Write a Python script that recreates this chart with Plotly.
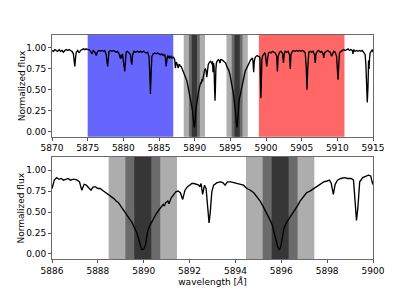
import plotly.graph_objects as go
from plotly.subplots import make_subplots

# ---- data ----
wavelength = [
    5870.0, 5870.2, 5870.4, 5870.6, 5870.8, 5871.0, 5871.2, 5871.4, 5871.6, 5871.8,
    5872.0, 5872.2, 5872.4, 5872.6, 5872.8, 5873.0, 5873.1, 5873.2, 5873.3, 5873.4,
    5873.6, 5873.8, 5874.0, 5874.2, 5874.4, 5874.6, 5874.8, 5875.0,
    5875.2, 5875.4, 5875.6, 5875.8, 5876.0, 5876.2, 5876.4, 5876.6, 5876.8, 5877.0,
    5877.2, 5877.4, 5877.6, 5877.7, 5877.8, 5877.9, 5878.0, 5878.2, 5878.4, 5878.6,
    5878.8, 5879.0, 5879.2, 5879.4, 5879.6, 5879.7, 5879.8, 5879.9, 5880.0, 5880.1,
    5880.2, 5880.3, 5880.4, 5880.6, 5880.8, 5881.0, 5881.1, 5881.2, 5881.3, 5881.5,
    5881.7, 5882.0, 5882.2, 5882.4, 5882.6, 5882.8, 5883.0, 5883.2, 5883.4, 5883.6,
    5883.7, 5883.8, 5883.9, 5884.0, 5884.2, 5884.4, 5884.6, 5884.8, 5885.0, 5885.2,
    5885.4, 5885.6, 5885.8, 5885.9, 5886.0, 5886.1, 5886.2, 5886.3, 5886.4, 5886.5,
    5886.6, 5886.7, 5886.8, 5886.9, 5887.0, 5887.1, 5887.2, 5887.3, 5887.4, 5887.5,
    5887.6, 5887.7, 5887.8, 5887.9, 5888.0, 5888.1, 5888.2, 5888.3, 5888.4, 5888.5,
    5888.6, 5888.7, 5888.8, 5888.9, 5889.0, 5889.1, 5889.2, 5889.3, 5889.4, 5889.5,
    5889.6, 5889.7, 5889.8, 5889.85, 5889.9, 5889.95, 5890.0, 5890.07, 5890.12, 5890.17,
    5890.25, 5890.35, 5890.45, 5890.55, 5890.65, 5890.75, 5890.85, 5890.9, 5890.95, 5891.05,
    5891.1, 5891.2, 5891.3, 5891.4, 5891.5, 5891.6, 5891.7, 5891.8, 5891.9, 5892.0,
    5892.1, 5892.2, 5892.3, 5892.4, 5892.45, 5892.5, 5892.57, 5892.65, 5892.72, 5892.78,
    5892.85, 5892.9, 5892.97, 5893.05, 5893.2, 5893.35, 5893.45, 5893.55, 5893.65, 5893.8,
    5893.95, 5894.1, 5894.25, 5894.35, 5894.5, 5894.65, 5894.8, 5894.95, 5895.08, 5895.2,
    5895.3, 5895.4, 5895.5, 5895.6, 5895.7, 5895.78, 5895.85, 5895.92, 5895.98, 5896.05,
    5896.12, 5896.22, 5896.32, 5896.45, 5896.6, 5896.72, 5896.82, 5896.95, 5897.1, 5897.25,
    5897.4, 5897.55, 5897.7, 5897.85, 5898.0, 5898.1, 5898.18, 5898.27, 5898.35, 5898.45,
    5898.6, 5898.75, 5898.9, 5899.05, 5899.15, 5899.22, 5899.28, 5899.34, 5899.42, 5899.55,
    5899.7, 5899.8, 5899.9, 5899.97, 5900.1, 5900.2, 5900.35, 5900.5, 5900.7, 5900.9,
    5901.1, 5901.3, 5901.5, 5901.6, 5901.7, 5901.9, 5902.1, 5902.3, 5902.45, 5902.55,
    5902.7, 5902.9, 5903.1, 5903.3, 5903.4, 5903.5, 5903.7, 5903.9, 5904.1, 5904.3,
    5904.5, 5904.7, 5904.9, 5905.1, 5905.3, 5905.5, 5905.65, 5905.75, 5905.85, 5906.0,
    5906.2, 5906.4, 5906.6, 5906.8, 5906.9, 5907.0, 5907.2, 5907.4, 5907.6, 5907.8,
    5908.0, 5908.1, 5908.2, 5908.4, 5908.6, 5908.8, 5909.0, 5909.2, 5909.3, 5909.5,
    5909.7, 5909.9, 5910.0, 5910.1, 5910.2, 5910.3, 5910.5, 5910.7, 5910.9, 5911.1,
    5911.3, 5911.5, 5911.7, 5911.9, 5912.1, 5912.2, 5912.3, 5912.5, 5912.7, 5912.9,
    5913.1, 5913.3, 5913.5, 5913.7, 5913.9, 5914.0, 5914.1, 5914.2, 5914.3, 5914.38,
    5914.45, 5914.52, 5914.6, 5914.75, 5914.9, 5915.0,
]
flux = [
    0.97, 0.96, 0.98, 0.97, 0.96, 0.98, 0.96, 0.97, 0.95, 0.97,
    0.98, 0.97, 0.98, 0.97, 0.96, 0.93, 0.85, 0.78, 0.88, 0.95,
    0.97, 0.94, 0.97, 0.98, 0.99, 0.98, 0.99, 0.98,
    0.98, 0.96, 0.93, 0.97, 0.95, 0.91, 0.96, 0.97, 0.96, 0.97,
    0.96, 0.97, 0.92, 0.84, 0.78, 0.88, 0.96, 0.97, 0.96, 0.97,
    0.96, 0.95, 0.96, 0.93, 0.87, 0.92, 0.88, 0.93, 0.85, 0.80,
    0.72, 0.84, 0.95, 0.96, 0.94, 0.92, 0.84, 0.80, 0.92, 0.96,
    0.95, 0.96, 0.95, 0.96, 0.95, 0.96, 0.95, 0.94, 0.95, 0.90,
    0.70, 0.45, 0.70, 0.90, 0.93, 0.94, 0.93, 0.94, 0.93, 0.92,
    0.93, 0.91, 0.92, 0.88, 0.78, 0.88, 0.91, 0.89, 0.90, 0.88,
    0.89, 0.90, 0.88, 0.89, 0.89, 0.88, 0.86, 0.76, 0.83, 0.82,
    0.79, 0.76, 0.80, 0.80, 0.78, 0.78, 0.76, 0.74, 0.73, 0.70,
    0.68, 0.66, 0.63, 0.61, 0.57, 0.53, 0.49, 0.45, 0.41, 0.37,
    0.31, 0.25, 0.16, 0.10, 0.06, 0.05, 0.06, 0.10, 0.18, 0.27,
    0.33, 0.38, 0.44, 0.48, 0.52, 0.56, 0.59, 0.57, 0.61, 0.63,
    0.60, 0.67, 0.70, 0.74, 0.75, 0.73, 0.65, 0.76, 0.80, 0.82,
    0.84, 0.84, 0.83, 0.82, 0.80, 0.84, 0.71, 0.82, 0.78, 0.55,
    0.37, 0.49, 0.74, 0.82, 0.85, 0.86, 0.85, 0.82, 0.86, 0.86,
    0.85, 0.84, 0.83, 0.82, 0.78, 0.76, 0.73, 0.68, 0.63, 0.57,
    0.52, 0.47, 0.41, 0.35, 0.25, 0.16, 0.08, 0.05, 0.09, 0.20,
    0.31, 0.37, 0.41, 0.47, 0.53, 0.58, 0.63, 0.68, 0.73, 0.75,
    0.78, 0.81, 0.84, 0.86, 0.87, 0.88, 0.84, 0.71, 0.83, 0.88,
    0.90, 0.91, 0.90, 0.90, 0.88, 0.60, 0.40, 0.55, 0.86, 0.91,
    0.93, 0.94, 0.93, 0.85, 0.78, 0.86, 0.94, 0.95, 0.94, 0.96,
    0.95, 0.94, 0.90, 0.72, 0.90, 0.95, 0.96, 0.94, 0.82, 0.93,
    0.96, 0.95, 0.96, 0.92, 0.75, 0.92, 0.96, 0.97, 0.96, 0.97,
    0.96, 0.97, 0.96, 0.97, 0.96, 0.94, 0.75, 0.50, 0.75, 0.95,
    0.96, 0.95, 0.96, 0.92, 0.82, 0.93, 0.96, 0.97, 0.95, 0.96,
    0.93, 0.88, 0.94, 0.96, 0.97, 0.96, 0.95, 0.90, 0.93, 0.96,
    0.95, 0.90, 0.75, 0.62, 0.80, 0.94, 0.96, 0.97, 0.98, 0.97,
    0.98, 0.99, 0.97, 0.98, 0.97, 0.93, 0.98, 0.96, 0.97, 0.96,
    0.97, 0.96, 0.97, 0.95, 0.92, 0.80, 0.55, 0.35, 0.55, 0.85,
    0.75, 0.88, 0.94, 0.96, 0.98, 0.95,
]

# shaded wavelength windows
blue_band = [5875.0, 5887.0]
red_band = [5899.0, 5911.0]
line_centres = [5889.96, 5895.95]
band_halfwidths = [1.49, 0.76, 0.37]          # light, mid, dark
band_colors = ["#adadad", "#6b6b6b", "#363636"]

top_xticks = [5870, 5875, 5880, 5885, 5890, 5895, 5900, 5905, 5910, 5915]
bottom_xticks = [5886, 5888, 5890, 5892, 5894, 5896, 5898, 5900]
yticks = [0.0, 0.25, 0.5, 0.75, 1.0]
ytick_text = ["0.00", "0.25", "0.50", "0.75", "1.00"]

FONT = "DejaVu Sans"
# the page body adds an 8px offset, so the figure is 8px smaller
W, H = 407, 283
TOP_DOMAIN = [0.546, 1.0]
BOTTOM_DOMAIN = [0.0, 0.455]

fig = make_subplots(rows=2, cols=1, vertical_spacing=0.09)

for row in (1, 2):
    fig.add_trace(go.Scatter(x=wavelength, y=flux, mode="lines",
                             line=dict(color="black", width=1.35),
                             showlegend=False, hoverinfo="skip"), row=row, col=1)

shapes = []
def vband(x0, x1, color, xref, yref):
    shapes.append(dict(type="rect", xref=xref, yref=yref, x0=x0, x1=x1,
                       y0=0, y1=1, fillcolor=color, line=dict(width=0),
                       layer="below"))

vband(blue_band[0], blue_band[1], "#6666ff", "x", "y domain")
vband(red_band[0], red_band[1], "#ff6666", "x", "y domain")
for xref, yref in (("x", "y domain"), ("x2", "y2 domain")):
    for c in line_centres:
        for hw, col in zip(band_halfwidths, band_colors):
            vband(c - hw, c + hw, col, xref, yref)

axis_common = dict(showline=True, mirror=True, linecolor="#6a6a6a", linewidth=1,
                   ticks="outside", ticklen=3, tickwidth=1, tickcolor="#555555",
                   showgrid=False, zeroline=False, automargin=False,
                   tickfont=dict(family=FONT, size=9, color="black"))

fig.update_xaxes(range=[5870, 5915], tickvals=top_xticks, row=1, col=1, **axis_common)
fig.update_xaxes(range=[5886, 5900], tickvals=bottom_xticks, row=2, col=1,
                 title=dict(text="wavelength [<i>Å</i>]", font=dict(family=FONT, size=9, color="black"),
                            standoff=2), **axis_common)
for row in (1, 2):
    fig.update_yaxes(range=[-0.06, 1.155], tickvals=yticks, ticktext=ytick_text,
                     row=row, col=1, **axis_common)

annotations = []
for dom in (TOP_DOMAIN, BOTTOM_DOMAIN):
    annotations.append(dict(text="Normalized flux", xref="paper", yref="paper",
                            x=0, y=(dom[0] + dom[1]) / 2, xanchor="center", yanchor="middle",
                            xshift=-30.5, textangle=-90, showarrow=False,
                            font=dict(family=FONT, size=9, color="black")))

fig.update_layout(
    width=W, height=H,
    margin=dict(l=44, r=41.5, t=27, b=32),
    paper_bgcolor="white", plot_bgcolor="white",
    shapes=shapes, annotations=annotations,
    xaxis=dict(domain=[0, 1]), yaxis=dict(domain=TOP_DOMAIN),
    xaxis2=dict(domain=[0, 1]), yaxis2=dict(domain=BOTTOM_DOMAIN),
    font=dict(family=FONT, size=9, color="black"),
)

fig.write_html("out.html")
